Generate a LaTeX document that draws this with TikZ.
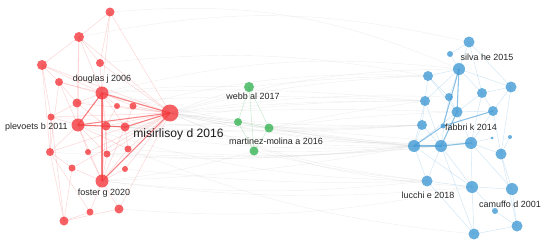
\documentclass[tikz,border=0pt]{standalone}
\usepackage{fontspec}
\setmainfont{Liberation Sans}
\definecolor{redc}{RGB}{242,52,56}
\definecolor{bluec}{RGB}{62,152,212}
\definecolor{greenc}{RGB}{52,178,82}
\pgfdeclarelayer{bg}
\pgfsetlayers{bg,main}
\begin{document}
\begin{tikzpicture}[x=0.02cm,y=-0.02cm,
  nd/.style={circle,inner sep=0pt,draw=none,fill opacity=0.78},
  rednd/.style={nd,fill=redc},
  bluend/.style={nd,fill=bluec},
  greennd/.style={nd,fill=greenc},
  lbl/.style={font=\fontsize{5.1}{6}\selectfont,text=black!85,inner sep=0pt},
  biglbl/.style={font=\fontsize{6.9}{8}\selectfont,text=black!90,inner sep=0pt},
  grayedge/.style={draw=gray!60,line width=0.25pt,opacity=0.2},
  rededge/.style={draw=redc,line width=0.3pt,opacity=0.2},
  redthick/.style={draw=redc,line width=0.6pt,opacity=0.6},
  blueedge/.style={draw=bluec,line width=0.3pt,opacity=0.22},
  bluethick/.style={draw=bluec,line width=0.6pt,opacity=0.6},
  greenedge/.style={draw=greenc,line width=0.3pt,opacity=0.25}]
\useasboundingbox (0,0) rectangle (550,250);
% nodes
\foreach \n/\x/\y/\r in {r1/110/12/4.5,r2/79/37/5,r3/42/65/5,r4/100/63/4,r5/59/82/4,
  r6/102/93/6.5,r7/77/103/4.5,r8/117/106/3,r9/133/106/3.5,r10/51/117/3.5,r11/78/125/6.5,
  r12/106/126/4.5,r13/125/127/4.5,r14/170/113/8.5,r15/50/152/4,r16/88/152/3,r17/107/154/3.5,
  r18/128/149/3.5,r19/72/168/3.5,r20/125/169/3,r21/102/181/6.5,r22/90/212/3.5,
  r23/119/209/4.5,r24/64/221/4.5}
  \node[rednd,minimum size={\r*0.04cm}] (\n) at (\x,\y) {};
\foreach \n/\x/\y/\r in {g1/249/87/5,g2/238/122/4,g3/269/128/4.5,g4/254/151/4.5}
  \node[greennd,minimum size={\r*0.04cm}] (\n) at (\x,\y) {};
\foreach \n/\x/\y/\r in {b1/469/42/5.5,b2/450/54/3,b3/459/69/6,b4/428/76/5,b5/511/87/5.5,
  b6/482/93/5,b7/449/97/4,b8/425/101/5,b9/457/112/5.5,b10/493/111/5,b11/422/125/5,
  b12/443/126/2.5,b13/492/138/1.5,b14/510/137/2,b15/414/146/6,b16/441/146/6,b17/471/143/6,
  b18/501/154/5.5,b19/427/181/5.5,b20/472/187/6,b21/512/189/6,b22/495/211/3,
  b23/517/226/5.5,b24/474/234/5.5}
  \node[bluend,minimum size={\r*0.04cm}] (\n) at (\x,\y) {};
% edges
\begin{pgfonlayer}{bg}
\foreach \a/\b/\bd in {r14/b15/-5,r14/b11/-4,r14/b8/3,r14/b19/-8,r14/b16/-3,r14/b4/6,
  r14/b9/2,r14/b3/8,r14/b17/-2,r14/b20/-10,r13/b15/-4,r13/b8/5,r13/b11/-3,r9/b4/8,
  r9/b16/-5,r6/b3/10,r6/b15/-3,r6/b8/4,r11/b15/-6,r11/b19/-8,r12/b11/-4,r21/b19/-6,
  r21/b15/-4,r21/b20/-6,r18/b16/-5,r18/b24/-8,r17/b15/-5,r2/b1/12,r4/b4/8,r1/b3/14,
  r23/b20/-8,r20/b19/-4,r10/b11/-3,r7/b8/3,r15/b15/-5,r16/b16/-4,r14/b7/5,r13/b17/-3,
  r14/g2/0,r14/g1/3,r14/g3/-2,r6/g1/4,r21/g4/-5,r13/g2/-2,r11/g2/-2,
  g3/b15/-3,g3/b8/2,g1/b4/3,g4/b19/-4,g3/b11/-2,g2/b15/-3,g3/b9/3,g4/b15/-3}
  \draw[grayedge] (\a.center) to[bend left=\bd] (\b.center);
\foreach \a/\b in {g1/g2,g1/g3,g2/g3,g2/g4,g3/g4,g1/g4}
  \draw[greenedge] (\a.center) -- (\b.center);
\foreach \a/\b in {r1/r2,r1/r4,r1/r6,r2/r3,r2/r4,r2/r6,r2/r7,r2/r11,r3/r5,r3/r6,r3/r10,
  r4/r6,r5/r6,r5/r7,r5/r11,r6/r7,r6/r8,r6/r9,r6/r11,r6/r12,r6/r13,r6/r21,r7/r11,r7/r10,
  r8/r12,r9/r13,r10/r11,r10/r15,r11/r12,r11/r13,r11/r15,r11/r16,r11/r21,r12/r13,r12/r17,
  r12/r21,r13/r18,r13/r21,r15/r19,r15/r24,r16/r21,r17/r21,r18/r21,r19/r21,r19/r24,
  r20/r21,r21/r22,r21/r23,r22/r24,r23/r24,r15/r22,r3/r15,r5/r15,r10/r24,r11/r17,r6/r17,
  r11/r18,r7/r12,r14/r7,r14/r17,r14/r18,r14/r2,r14/r4,r14/r1,r14/r10,r14/r15,r14/r16,
  r14/r20,r14/r23,r14/r19,r14/r5,r14/r3,r14/r8,r14/r9,r14/r12}
  \draw[rededge] (\a.center) -- (\b.center);
\foreach \a/\b in {r14/r6,r14/r11,r14/r13,r14/r21,r6/r11,r11/r13,r6/r21}
  \draw[redthick] (\a.center) -- (\b.center);
\foreach \a/\b in {b1/b3,b1/b6,b1/b5,b2/b3,b3/b4,b3/b6,b3/b7,b3/b8,b3/b5,b4/b8,b4/b7,
  b5/b6,b5/b10,b5/b18,b6/b9,b6/b10,b7/b9,b8/b11,b8/b15,b9/b10,b9/b17,b10/b17,b11/b15,
  b11/b16,b17/b18,b17/b20,b18/b21,b15/b19,b16/b19,b16/b20,b19/b20,b20/b21,b20/b24,
  b21/b23,b22/b23,b22/b20,b23/b24,b19/b24,b18/b23,b17/b21,b10/b18,b6/b17,b14/b18,
  b13/b17,b15/b20,b16/b24,b1/b2,b4/b9,b8/b16,b7/b16,b15/b17,b9/b15}
  \draw[blueedge] (\a.center) -- (\b.center);
\foreach \a/\b in {b15/b16,b16/b17,b15/b12,b12/b10,b3/b9,b9/b16,b3/b12}
  \draw[bluethick] (\a.center) -- (\b.center);
\end{pgfonlayer}
% labels
\node[lbl] (l1) at (102,79) {douglas j 2006};
\node[lbl,anchor=east] (l2) at (68,127) {plevoets b 2011};
\node[biglbl,anchor=west] (l3) at (133,134) {misirlisoy d 2016};
\node[lbl] (l4) at (104,193) {foster g 2020};
\node[lbl] (l5) at (253,96) {webb al 2017};
\node[lbl] (l6) at (276,141) {martinez-molina a 2016};
\node[lbl] (l7) at (487,57) {silva he 2015};
\node[lbl] (l8) at (471,127) {fabbri k 2014};
\node[lbl] (l9) at (428,195) {lucchi e 2018};
\node[lbl] (l10) at (510,204) {camuffo d 2001};
\end{tikzpicture}
\end{document}
